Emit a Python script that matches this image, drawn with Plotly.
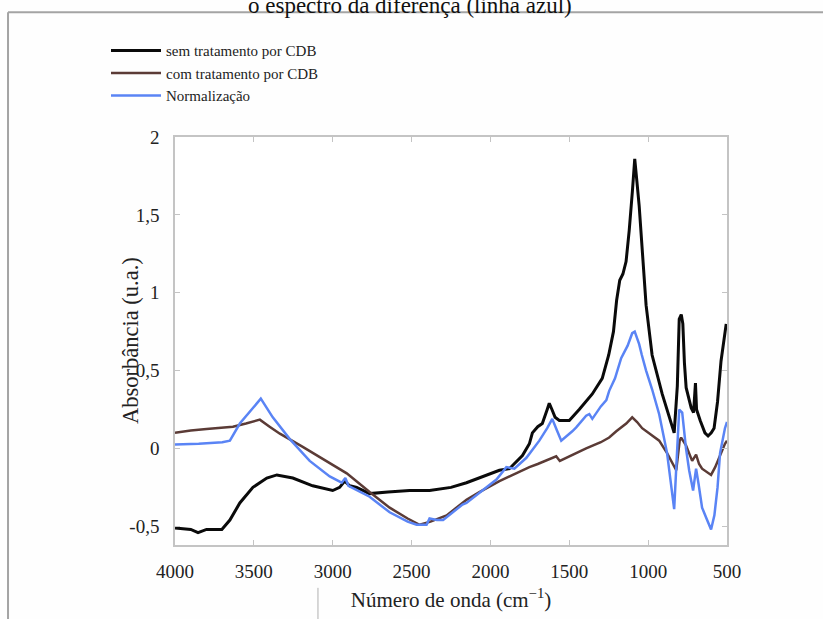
import plotly.graph_objects as go

# FTIR spectra: wavenumber (cm^-1) and absorbance (a.u.)
wn_sem = [4000, 3900, 3854, 3800, 3703, 3652, 3589, 3506, 3418, 3354, 3253, 3127, 3000,
          2956, 2924, 2892, 2848, 2766, 2650, 2513, 2386, 2250, 2152, 2050, 1943, 1880,
          1860, 1797, 1753, 1734, 1700, 1671, 1640, 1627, 1610, 1590, 1563, 1500, 1437,
          1354, 1291, 1250, 1220, 1200, 1180, 1160, 1140, 1120, 1100, 1085, 1070, 1057,
          1013, 975, 911, 835, 815, 803, 790, 780, 770, 759, 727, 712, 700, 693, 670,
          640, 620, 600, 582, 560, 538, 513, 505]
abs_sem = [-0.51, -0.52, -0.54, -0.52, -0.52, -0.46, -0.35, -0.25, -0.19, -0.17, -0.19, -0.24, -0.27,
           -0.25, -0.21, -0.24, -0.25, -0.29, -0.28, -0.27, -0.27, -0.25, -0.22, -0.18, -0.14, -0.13,
           -0.11, -0.045, 0.03, 0.10, 0.14, 0.16, 0.25, 0.29, 0.25, 0.20, 0.18, 0.18, 0.25,
           0.35, 0.45, 0.60, 0.75, 0.95, 1.08, 1.12, 1.20, 1.40, 1.65, 1.86, 1.70, 1.56,
           0.92, 0.60, 0.35, 0.10, 0.40, 0.83, 0.86, 0.80, 0.55, 0.39, 0.26, 0.23, 0.42, 0.25, 0.18,
           0.10, 0.08, 0.10, 0.13, 0.30, 0.56, 0.77, 0.80]

wn_com = [4000, 3900, 3800, 3700, 3633, 3550, 3462, 3400, 3335, 3190, 3038, 2911, 2766,
          2639, 2525, 2449, 2380, 2278, 2152, 2070, 1943, 1860, 1753, 1700, 1627, 1583,
          1560, 1500, 1418, 1393, 1300, 1247, 1202, 1139, 1101, 1070, 1038, 980, 930, 880,
          835, 822, 800, 791, 760, 721, 696, 677, 658, 620, 601, 575, 551, 513, 500]
abs_com = [0.10, 0.115, 0.125, 0.135, 0.14, 0.16, 0.185, 0.14, 0.095, 0.01, -0.08, -0.16, -0.28,
           -0.38, -0.45, -0.49, -0.47, -0.43, -0.33, -0.28, -0.21, -0.17, -0.12, -0.10, -0.07, -0.05,
           -0.08, -0.05, -0.01, 0.0, 0.04, 0.07, 0.11, 0.16, 0.20, 0.17, 0.13, 0.09, 0.05, -0.03,
           -0.12, -0.14, 0.05, 0.07, 0.02, -0.08, -0.04, -0.10, -0.13, -0.16, -0.17, -0.12, -0.06, 0.03, 0.05]

wn_norm = [4000, 3850, 3700, 3652, 3589, 3456, 3380, 3272, 3146, 3019, 2943, 2920, 2900,
           2880, 2766, 2639, 2525, 2468, 2405, 2386, 2340, 2300, 2177, 2152, 2050, 1962,
           1899, 1848, 1772, 1690, 1640, 1608, 1580, 1551, 1481, 1456, 1393, 1373, 1354,
           1300, 1265, 1247, 1210, 1171, 1130, 1101, 1085, 1057, 1040, 1013, 975, 930, 880,
           835, 803, 784, 760, 740, 715, 696, 680, 658, 630, 601, 580, 560, 544, 513, 500]
abs_norm = [0.025, 0.03, 0.04, 0.05, 0.16, 0.32, 0.20, 0.06, -0.08, -0.18, -0.22, -0.19, -0.24,
            -0.25, -0.31, -0.41, -0.47, -0.49, -0.49, -0.45, -0.46, -0.46, -0.36, -0.35, -0.27, -0.20,
            -0.12, -0.13, -0.06, 0.05, 0.13, 0.19, 0.12, 0.05, 0.11, 0.135, 0.21, 0.22, 0.19,
            0.27, 0.31, 0.37, 0.45, 0.58, 0.66, 0.74, 0.75, 0.67, 0.60, 0.50, 0.38, 0.22, -0.03,
            -0.39, 0.25, 0.23, 0.0, -0.14, -0.27, -0.13, -0.23, -0.38, -0.45, -0.52, -0.43, -0.25, -0.03, 0.13, 0.17]

x_ticks = [4000, 3500, 3000, 2500, 2000, 1500, 1000, 500]
y_ticks = [-0.5, 0, 0.5, 1, 1.5, 2]
y_tick_text = ["-0,5", "0", "0,5", "1", "1,5", "2"]

SERIF = "Liberation Serif, Times New Roman, serif"

fig = go.Figure()
fig.add_trace(go.Scatter(x=wn_sem, y=abs_sem, mode="lines", name="sem tratamento por CDB",
                         line=dict(color="#0a0a0a", width=3)))
fig.add_trace(go.Scatter(x=wn_com, y=abs_com, mode="lines", name="com tratamento por CDB",
                         line=dict(color="#5b3b36", width=2.5)))
fig.add_trace(go.Scatter(x=wn_norm, y=abs_norm, mode="lines", name="Normalização",
                         line=dict(color="#5a84f5", width=2.5)))

axis_common = dict(
    showgrid=False, zeroline=False, showline=True, linecolor="#c4c4c4", linewidth=1.5,
    mirror="ticks", ticks="inside", ticklen=5, tickcolor="#c4c4c4",
    tickfont=dict(family=SERIF, size=19, color="#222"),
)

fig.update_layout(
    width=823, height=619,
    margin=dict(l=175, r=96, t=137, b=74),
    paper_bgcolor="#fefefe", plot_bgcolor="#ffffff",
    font=dict(family=SERIF, color="#222"),
    xaxis=dict(range=[4000, 500], tickvals=x_ticks, ticklabelstandoff=8,
               title=dict(text="Número de onda (cm<sup>−1</sup>)", font=dict(size=21), standoff=12),
               **axis_common),
    yaxis=dict(range=[-0.62, 2.0], tickvals=y_ticks, ticktext=y_tick_text, ticklabelstandoff=10,
               **axis_common),
    legend=dict(x=-0.125, y=1.252, xanchor="left", yanchor="top",
                bgcolor="rgba(0,0,0,0)", font=dict(family=SERIF, size=15, color="#222"),
                tracegroupgap=0, itemwidth=50),
    showlegend=True,
)

# Y-axis label, set close to the tick labels
fig.add_annotation(text="Absorbância (u.a.)", xref="paper", yref="paper",
                   x=-0.0815, y=0.5, xanchor="center", yanchor="middle", textangle=-90,
                   showarrow=False, font=dict(family=SERIF, size=22.5, color="#222"))

# Caption line running off the top edge
fig.add_annotation(text="o espectro da diferença (linha azul)", xref="paper", yref="paper",
                   x=0.425, y=1.322, xanchor="center", yanchor="middle", showarrow=False,
                   font=dict(family=SERIF, size=23, color="#111"))

# Frame lines around the figure panel
fig.add_shape(type="line", xref="paper", yref="paper", x0=-0.3025, x1=1.18, y0=1.306, y1=1.306,
              line=dict(color="#a4a4a4", width=2))
fig.add_shape(type="line", xref="paper", yref="paper", x0=-0.3025, x1=-0.3025, y0=1.306, y1=-0.19,
              line=dict(color="#a4a4a4", width=2))
fig.add_shape(type="line", xref="paper", yref="paper", x0=0.259, x1=0.259, y0=-0.105, y1=-0.19,
              line=dict(color="#b0b0b0", width=1))

fig.write_html("out.html")
